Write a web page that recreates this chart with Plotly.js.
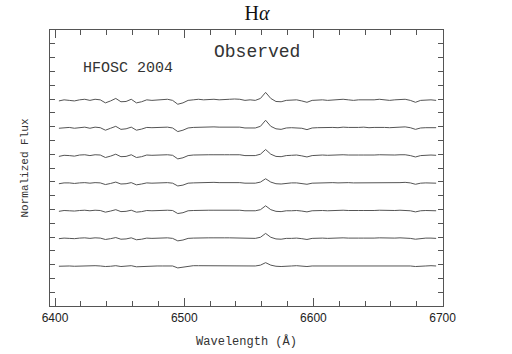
<!DOCTYPE html>
<html>
<head>
<meta charset="utf-8">
<script src="https://cdn.plot.ly/plotly-3.0.1.min.js"></script>
<style>html,body{margin:0;padding:0;background:#fff;}#chart{width:512px;height:354px;}</style>
</head>
<body>
<div id="chart"></div>
<script>
// Wavelength grid (Angstrom)
const wavelength = [6403,6407,6411,6415,6419,6423,6427,6431,6435,6439,
  6443,6447,6451,6455,6459,6463,6467,6471,6475,6479,
  6483,6487,6491,6495,6499,6503,6507,6511,6515,6519,
  6523,6527,6531,6535,6539,6543,6547,6551,6555,6559,
  6563,6567,6571,6575,6579,6583,6587,6591,6595,6599,
  6603,6607,6611,6615,6619,6623,6627,6631,6635,6639,
  6643,6647,6651,6655,6659,6663,6667,6671,6675,6679,
  6683,6687,6691,6695];

// Normalized flux of each spectrum (top to bottom)
const fluxA = [0.98,1.02,1.00,0.98,1.02,1.04,1.00,1.04,1.02,0.91,
  0.98,1.07,0.95,0.96,1.04,0.91,0.95,1.02,1.00,1.02,
  1.02,1.04,1.00,0.86,0.91,1.00,1.02,1.04,1.02,1.04,
  1.04,1.02,1.04,1.04,1.05,1.04,1.00,1.02,1.00,1.07,
  1.29,1.07,0.96,0.95,1.00,1.00,1.02,0.98,0.93,1.00,
  1.02,1.02,1.00,1.02,1.02,1.04,1.02,1.00,1.02,1.02,
  1.00,1.02,1.04,1.02,1.00,1.02,1.04,1.04,1.00,0.93,
  1.00,1.02,1.02,1.00];
const fluxB = [0.99,1.01,1.02,0.99,1.01,1.03,0.99,1.03,1.01,0.92,
  0.99,1.06,0.95,0.97,1.03,0.92,0.96,1.02,1.01,1.01,
  1.02,1.03,1.00,0.87,0.92,1.00,1.02,1.03,1.03,1.03,
  1.04,1.03,1.03,1.04,1.04,1.03,1.00,1.01,1.00,1.06,
  1.28,1.06,0.97,0.95,1.00,1.01,1.01,0.99,0.94,1.00,
  1.01,1.02,1.01,1.02,1.01,1.03,1.02,1.01,1.02,1.03,
  1.01,1.02,1.03,1.02,1.01,1.01,1.03,1.04,1.01,0.95,
  1.00,1.01,1.02,1.01];
const fluxC = [0.97,1.01,1.00,0.98,1.02,1.03,1.00,1.03,1.02,0.93,
  0.98,1.05,0.96,0.97,1.03,0.93,0.96,1.02,1.01,1.02,
  1.02,1.03,1.01,0.88,0.92,1.00,1.02,1.03,1.02,1.03,
  1.03,1.02,1.03,1.03,1.04,1.03,1.00,1.01,1.00,1.05,
  1.22,1.05,0.97,0.96,1.00,1.01,1.02,0.99,0.95,1.00,
  1.02,1.02,1.01,1.02,1.02,1.03,1.02,1.01,1.02,1.02,
  1.01,1.02,1.03,1.02,1.01,1.02,1.03,1.03,1.00,0.95,
  1.00,1.02,1.02,1.01];
const fluxD = [0.98,1.01,1.01,0.99,1.01,1.02,1.00,1.02,1.01,0.95,
  0.99,1.04,0.97,0.98,1.02,0.94,0.97,1.01,1.00,1.01,
  1.01,1.02,1.00,0.90,0.93,1.00,1.01,1.02,1.02,1.02,
  1.03,1.02,1.02,1.03,1.03,1.02,1.00,1.01,1.00,1.04,
  1.16,1.04,0.98,0.97,1.00,1.01,1.01,0.99,0.96,1.00,
  1.01,1.01,1.01,1.02,1.01,1.02,1.02,1.01,1.01,1.02,
  1.01,1.01,1.02,1.02,1.00,1.01,1.02,1.03,1.01,0.96,
  1.00,1.01,1.01,1.00];
const fluxE = [0.98,1.01,1.00,0.99,1.01,1.02,1.00,1.02,1.01,0.95,
  0.99,1.04,0.97,0.98,1.02,0.95,0.97,1.01,1.00,1.01,
  1.01,1.02,1.01,0.90,0.93,1.00,1.01,1.02,1.01,1.02,
  1.02,1.02,1.02,1.02,1.03,1.02,1.00,1.01,1.00,1.04,
  1.18,1.04,0.98,0.97,1.00,1.00,1.01,0.99,0.96,1.00,
  1.01,1.01,1.00,1.01,1.01,1.02,1.01,1.00,1.01,1.01,
  1.00,1.01,1.02,1.01,1.00,1.01,1.02,1.02,1.00,0.96,
  1.00,1.01,1.01,1.00];
const fluxF = [0.99,1.01,1.00,0.99,1.01,1.02,1.00,1.02,1.01,0.96,
  0.99,1.03,0.97,0.98,1.02,0.95,0.97,1.01,1.00,1.01,
  1.01,1.02,1.00,0.91,0.94,1.00,1.01,1.02,1.01,1.02,
  1.02,1.01,1.02,1.02,1.02,1.02,1.00,1.01,1.00,1.04,
  1.18,1.04,0.98,0.97,1.00,1.00,1.01,0.99,0.96,1.00,
  1.01,1.01,1.00,1.01,1.01,1.02,1.01,1.00,1.01,1.01,
  1.00,1.01,1.02,1.01,1.00,1.01,1.02,1.02,1.00,0.97,
  1.00,1.01,1.01,1.00];
const fluxG = [0.99,1.00,1.00,0.99,1.00,1.01,1.00,1.01,1.00,0.98,
  0.99,1.01,0.98,0.99,1.01,0.97,0.98,1.00,1.00,1.00,
  1.00,1.01,1.00,0.93,0.96,1.00,1.01,1.01,1.01,1.01,
  1.01,1.01,1.01,1.01,1.02,1.01,1.00,1.00,1.00,1.03,
  1.12,1.03,0.99,0.98,1.00,1.00,1.01,1.00,0.98,1.00,
  1.00,1.01,1.00,1.01,1.00,1.01,1.01,1.00,1.00,1.01,
  1.00,1.00,1.01,1.01,1.00,1.00,1.01,1.01,1.00,0.98,
  1.00,1.00,1.01,1.00];

const spectra = [fluxA, fluxB, fluxC, fluxD, fluxE, fluxF, fluxG];
const offsets = [6.45, 5.45, 4.45, 3.45, 2.45, 1.45, 0.45];
const xTickVals = [6400, 6500, 6600, 6700];
const xTickText = ['6400', '6500', '6600', '6700'];

const traces = spectra.map((f, i) => ({
  x: wavelength,
  y: f.map(v => v + offsets[i]),
  type: 'scatter',
  mode: 'lines',
  line: {color: '#555555', width: 1},
  hoverinfo: 'skip',
  showlegend: false
}));

const mono = '"Liberation Mono", "Courier New", monospace';
const layout = {
  width: 512, height: 354,
  margin: {l: 50, r: 69, t: 30, b: 48},
  paper_bgcolor: '#fff', plot_bgcolor: '#fff',
  showlegend: false,
  title: {text: 'H<i>α</i>', font: {family: '"Liberation Serif", serif', size: 20, color: '#111'},
          x: 0.502, xref: 'container', xanchor: 'center', y: 0.962, yref: 'container', yanchor: 'middle'},
  xaxis: {
    range: [6396.1, 6700.3], showgrid: false, zeroline: false,
    showline: true, linecolor: '#555', linewidth: 1.2, mirror: 'ticks',
    ticks: 'inside', ticklen: 8, tickcolor: '#555', tickwidth: 1,
    tickvals: xTickVals, ticktext: xTickText,
    tickfont: {family: '"Liberation Sans", Arial, sans-serif', size: 12, color: '#222'},
    minor: {dtick: 20, tick0: 6400, ticks: 'inside', ticklen: 5, tickcolor: '#555', tickwidth: 1, showgrid: false},
    title: {text: 'Wavelength (Å)', font: {family: mono, size: 12, color: '#333'}, standoff: 13}
  },
  yaxis: {
    range: [0, 10], showgrid: false, zeroline: false,
    showline: true, linecolor: '#555', linewidth: 1.2, mirror: 'ticks',
    ticks: 'inside', ticklen: 5, tickcolor: '#555', tickwidth: 1,
    dtick: 0.5, tick0: 0, showticklabels: false,
    title: {text: 'Normalized Flux', font: {family: mono, size: 11, color: '#333'}, standoff: 18}
  },
  annotations: [
    {text: 'Observed', xref: 'paper', yref: 'paper', x: 0.527, y: 0.92, xanchor: 'center', yanchor: 'middle',
     showarrow: false, font: {family: mono, size: 18, color: '#333'}},
    {text: 'HFOSC 2004', xref: 'paper', yref: 'paper', x: 0.198, y: 0.859, xanchor: 'center', yanchor: 'middle',
     showarrow: false, font: {family: mono, size: 15, color: '#333'}}
  ]
};

Plotly.newPlot('chart', traces, layout, {displayModeBar: false, staticPlot: true});
</script>
</body>
</html>
